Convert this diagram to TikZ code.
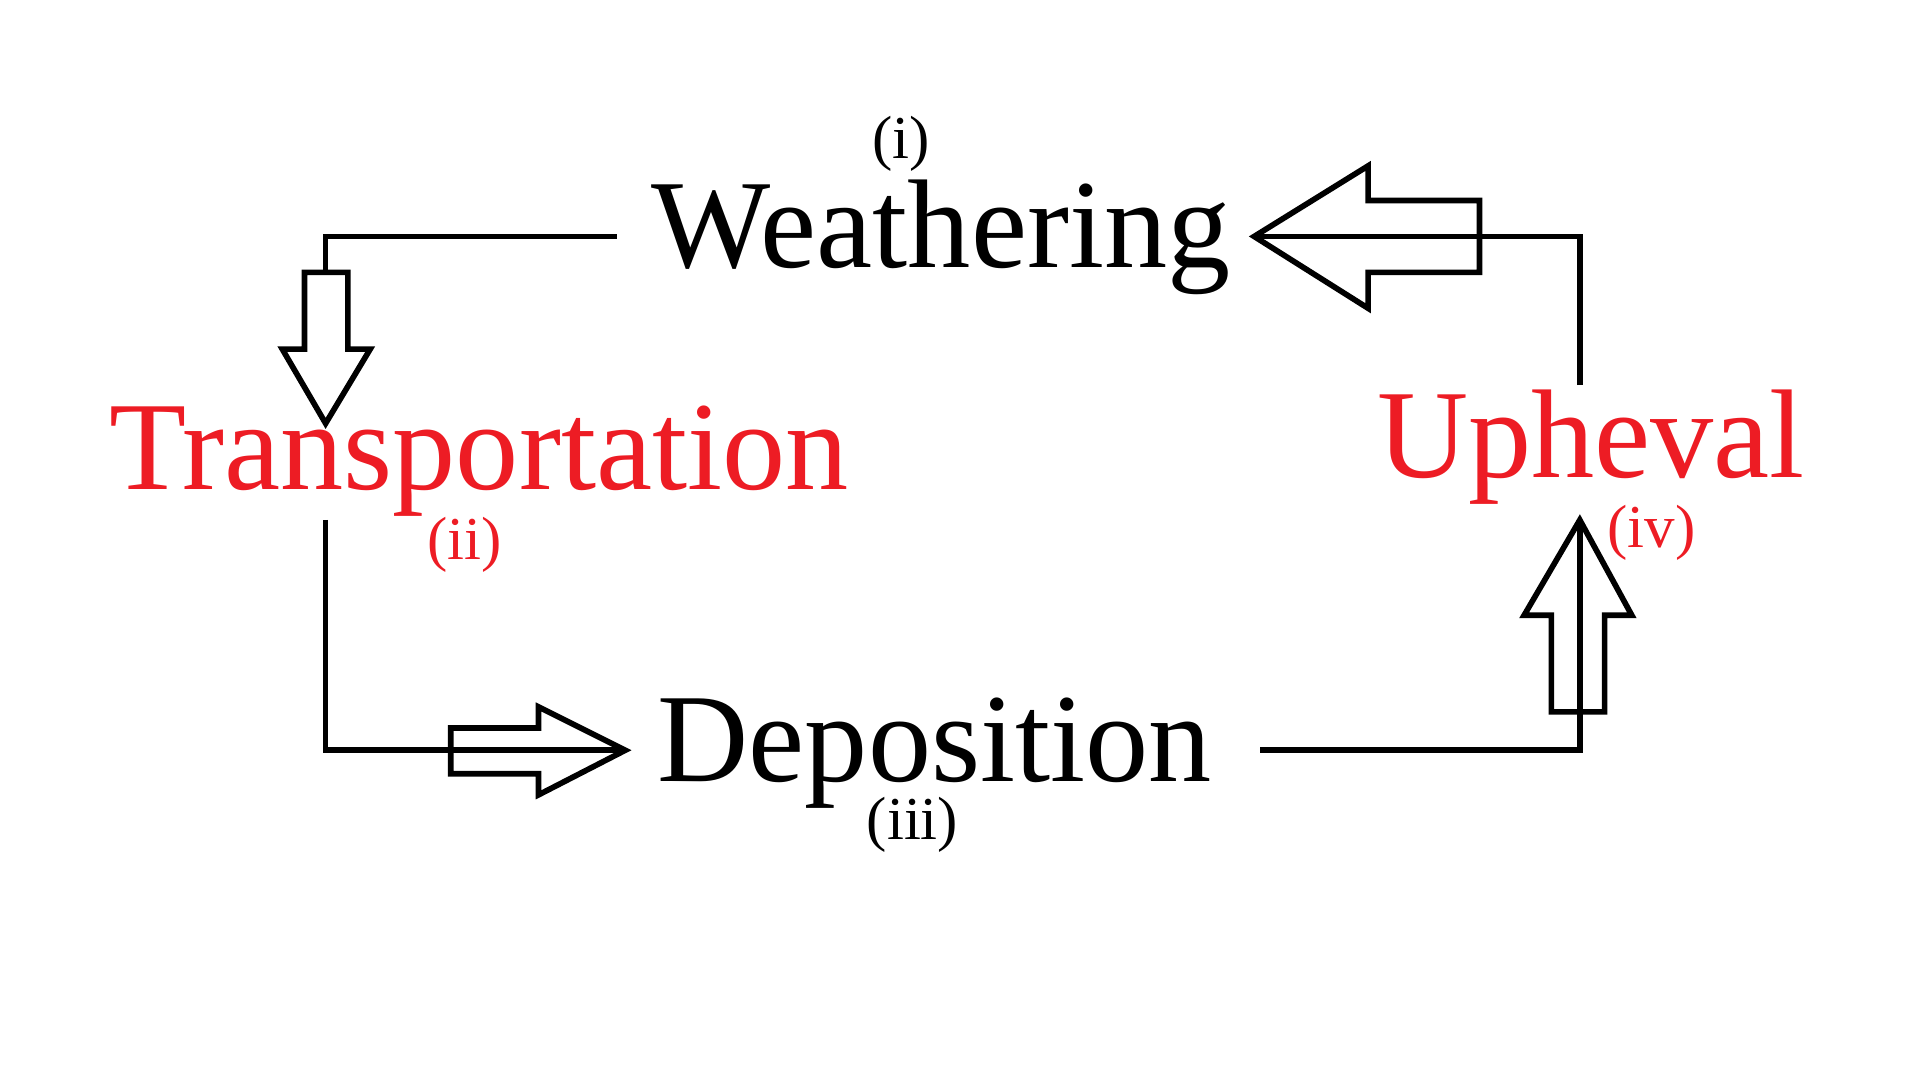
\documentclass[tikz,border=0pt]{standalone}
\usepackage{fontspec}
\setmainfont{Liberation Serif}
\definecolor{myred}{RGB}{237,28,36}
\begin{document}
\begin{tikzpicture}[x=0.01cm,y=-0.01cm,
  big/.style={font=\fontsize{29}{33}\selectfont,inner sep=0pt,anchor=base},
  small/.style={font=\fontsize{14}{16}\selectfont,inner sep=0pt,anchor=base},
  conn/.style={line width=1.3pt,line join=miter},
  hollow/.style={line width=1.3pt,fill=white,line join=miter}]
\useasboundingbox (0,0) rectangle (1554,874);
\node[big] (w) at (760,216) {Weathering};
\node[small] (wi) at (728,128) {(i)};
\node[big,text=myred] (t) at (387,395) {Transportation};
\node[small,text=myred] (ti) at (375,452) {(ii)};
\node[big] (d) at (755,631) {Deposition};
\node[small] (di) at (737,678) {(iii)};
\node[big,text=myred] (u) at (1285,386) {Upheval};
\node[small,text=myred] (ui) at (1334,442) {(iv)};
% arrows
\coordinate (a1) at (498,191); \coordinate (a2) at (263,342);
\coordinate (b1) at (263,420); \coordinate (b2) at (505,606);
\coordinate (c1) at (1018,606); \coordinate (c2) at (1276,420);
\coordinate (d1) at (1276,311); \coordinate (d2) at (1013,191);
\draw[hollow] (246,220) -- (281,220) -- (281,282) -- (299,282) -- (a2) -- (228,282) -- (246,282) -- cycle;
\draw[hollow] (364,588) -- (435,588) -- (435,571) -- (b2) -- (435,642) -- (435,625) -- (364,625) -- cycle;
\draw[hollow] (1253,575) -- (1253,497) -- (1231,497) -- (c2) -- (1318,497) -- (1296,497) -- (1296,575) -- cycle;
\draw[hollow] (1195,162) -- (1105,162) -- (1105,134) -- (d2) -- (1105,249) -- (1105,220) -- (1195,220) -- cycle;
\draw[conn] (a1) -| (263,220);
\draw[conn] (b1) |- (b2);
\draw[conn] (c1) -| (c2);
\draw[conn] (d1) |- (d2);
\end{tikzpicture}
\end{document}
